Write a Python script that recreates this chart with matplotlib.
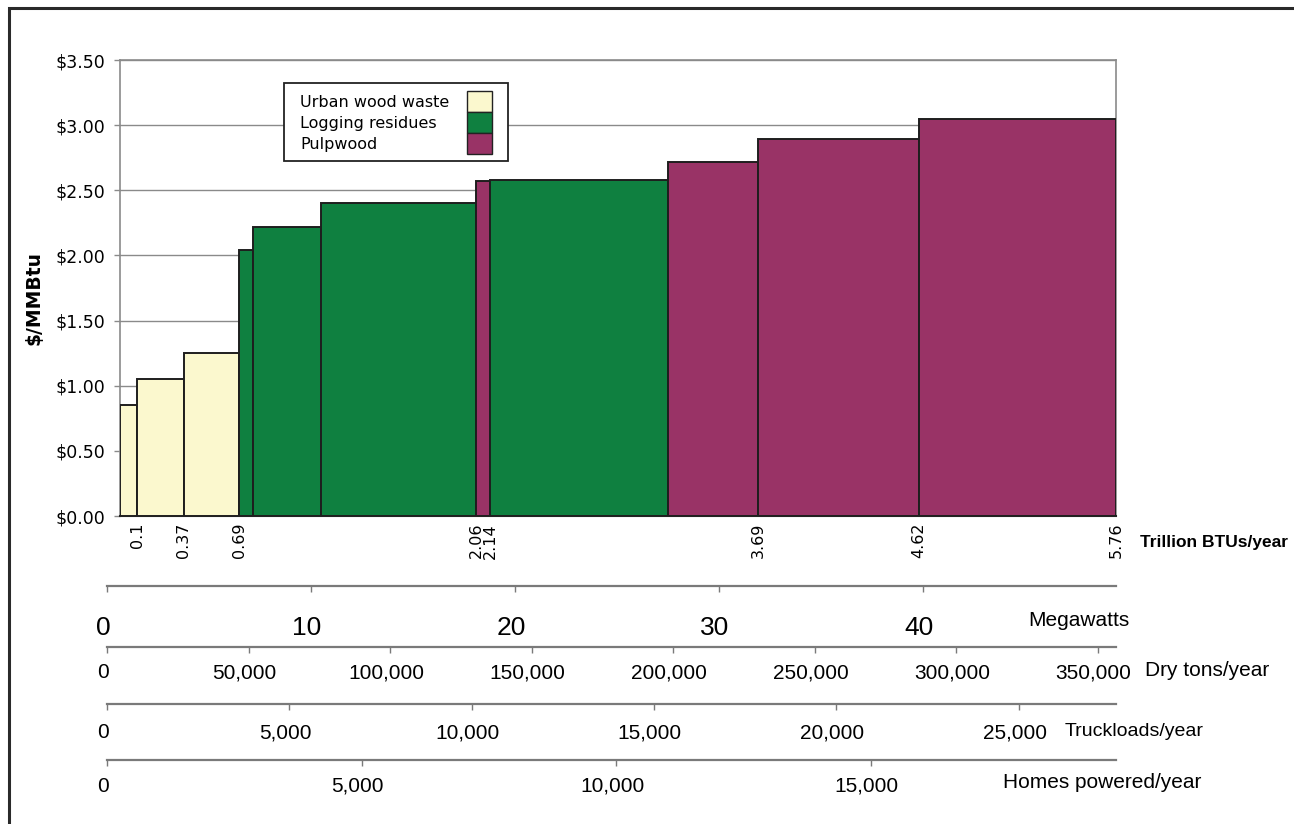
import matplotlib
matplotlib.use("Agg")
import matplotlib.pyplot as plt
from matplotlib.patches import Rectangle
from matplotlib.transforms import blended_transform_factory, ScaledTranslation
import numpy as np

# ---------------- data ----------------
categories = ["Urban wood waste", "Logging residues", "Pulpwood"]
cat_colors = ["#FBF8CE", "#0F8040", "#993366"]

# cumulative supply (Trillion BTUs/year) at bar edges
bar_edges = [0.0, 0.1, 0.37, 0.69, 0.77, 1.16, 2.06, 2.14, 3.17, 3.69, 4.62, 5.76]
bar_prices = [0.85, 1.05, 1.25, 2.04, 2.22, 2.40, 2.57, 2.58, 2.72, 2.89, 3.05]
bar_cats = [0, 0, 0, 1, 1, 1, 2, 1, 2, 2, 2]

x_tick_vals = [0.1, 0.37, 0.69, 2.06, 2.14, 3.69, 4.62, 5.76]
x_tick_labels = ["0.1", "0.37", "0.69", "2.06", "2.14", "3.69", "4.62", "5.76"]
y_ticks = [0.0, 0.5, 1.0, 1.5, 2.0, 2.5, 3.0, 3.5]

mw_ticks = [0, 10, 20, 30, 40]
drytons_ticks = [0, 50000, 100000, 150000, 200000, 250000, 300000, 350000]
truck_ticks = [0, 5000, 10000, 15000, 20000, 25000]
homes_ticks = [0, 5000, 10000, 15000]

# ---------------- figure ----------------
W, H = 1294, 824
fig = plt.figure(figsize=(W / 100, H / 100), dpi=100)
fig.patch.set_facecolor("white")

def fx(px):
    return px / W

def fy(py):
    return 1 - py / H

# outer frame (extends beyond right/bottom edges)
fig.add_artist(Rectangle((fx(9), -0.1), 1.2, fy(8) + 0.1, transform=fig.transFigure,
                         fill=False, edgecolor="#2a2a2a", linewidth=2.2, zorder=0))

ax_l, ax_r, ax_t, ax_b = 120, 1116, 60, 516
ax = fig.add_axes([fx(ax_l), fy(ax_b), fx(ax_r - ax_l), (ax_b - ax_t) / H])
ax.set_xlim(0, 5.76)
ax.set_ylim(0, 3.5)

grey = "#8a8a8a"
ax.set_yticks(y_ticks)
ax.set_yticklabels([f"${v:.2f}" for v in y_ticks], fontsize=12.5, family="DejaVu Sans")
ax.yaxis.grid(True, color=grey, linewidth=1.0)
ax.set_axisbelow(True)
ax.tick_params(axis="y", length=4.5, color=grey, width=1.0, pad=6)

ax.set_xticks(x_tick_vals)
ax.set_xticklabels(x_tick_labels, rotation=90, fontsize=11.5, family="DejaVu Sans", va="top")
ax.tick_params(axis="x", length=0, pad=5)

for s in ["left", "right", "top"]:
    ax.spines[s].set_color(grey)
    ax.spines[s].set_linewidth(1.2)
ax.spines["bottom"].set_color("#222222")
ax.spines["bottom"].set_linewidth(1.5)

lefts = np.array(bar_edges[:-1])
widths = np.diff(bar_edges)
ax.bar(lefts, bar_prices, width=widths, align="edge",
       color=[cat_colors[c] for c in bar_cats], edgecolor="#1e1e1e", linewidth=1.4, zorder=3)

fig.text(fx(1140), fy(542), "Trillion BTUs/year", fontsize=12.5, fontweight="bold",
         family="Liberation Sans", ha="left", va="center")
fig.text(fx(34), fy(298), "$/MMBtu", fontsize=13.5, fontweight="bold", family="DejaVu Sans",
         rotation=90, ha="center", va="center")

# ---------------- legend (manual, swatches to the right) ----------------
fig.add_artist(Rectangle((fx(284), fy(161)), fx(508 - 284), (161 - 83) / H,
                         transform=fig.transFigure, facecolor="white", edgecolor="#222222",
                         linewidth=1.3, zorder=5))
sw_tops = [91, 112, 133]
sw_h = 21
for i, name in enumerate(categories):
    top = sw_tops[i]
    fig.add_artist(Rectangle((fx(467), fy(top + sw_h)), fx(25), sw_h / H,
                             transform=fig.transFigure, facecolor=cat_colors[i],
                             edgecolor="#222222", linewidth=1.0, zorder=6))
    fig.text(fx(300), fy(top + sw_h / 2 + 1), name, fontsize=11.5, family="DejaVu Sans",
             ha="left", va="center", zorder=7)

# ---------------- secondary scales ----------------
scale_left, scale_right = 107, 1116
label_shift = ScaledTranslation(-4 / 100, 0, fig.dpi_scale_trans)

def add_scale(ticks, px_per_unit, line_y, label_y, fontsize, title, title_x, title_y, title_fs):
    sax = fig.add_axes([fx(scale_left), fy(line_y), fx(scale_right - scale_left), 0.0001])
    sax.set_xlim(0, (scale_right - scale_left) / px_per_unit)
    sax.set_ylim(0, 1)
    for s in ["left", "right", "top"]:
        sax.spines[s].set_visible(False)
    sax.spines["bottom"].set_color("#7a7a7a")
    sax.spines["bottom"].set_linewidth(1.6)
    sax.set_yticks([])
    sax.set_xticks(ticks)
    sax.set_xticklabels([])
    sax.tick_params(axis="x", direction="out", length=4.5, color="#7a7a7a", width=1.0)
    sax.patch.set_visible(False)
    tr = blended_transform_factory(sax.transData, fig.transFigure) + label_shift
    for t in ticks:
        sax.text(t, fy(label_y), f"{t:,}", transform=tr, fontsize=fontsize,
                 family="Liberation Sans", ha="center", va="center")
    fig.text(fx(title_x), fy(title_y), title, fontsize=title_fs, family="Liberation Sans",
             ha="left", va="center")

add_scale(mw_ticks, 20.4, 586, 628, 19, "Megawatts", 1028, 620, 15)
add_scale(drytons_ticks, 141.5 / 50000, 647, 673, 15, "Dry tons/year", 1145, 670, 15)
add_scale(truck_ticks, 182.3 / 5000, 704, 733, 15, "Truckloads/year", 1065, 731, 14)
add_scale(homes_ticks, 254.5 / 5000, 760, 786, 15, "Homes powered/year", 1003, 783, 15)

fig.savefig("out.png", dpi=100, facecolor="white")
